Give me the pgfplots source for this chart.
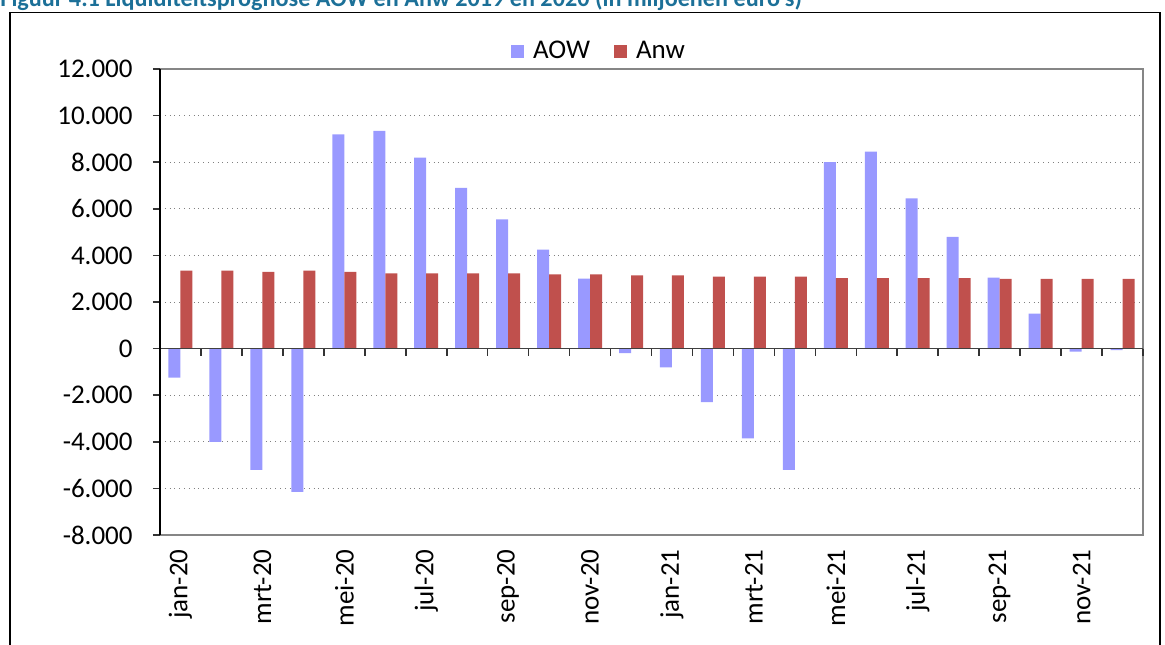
\documentclass[border=0pt]{standalone}
\usepackage{pgfplots}
\pgfplotsset{compat=1.18}
\usepackage{fontspec}
\setmainfont{Carlito}
\definecolor{aow}{RGB}{153,153,255}
\definecolor{anw}{RGB}{192,80,77}
\definecolor{titleblue}{RGB}{28,112,152}
\definecolor{boxgray}{RGB}{134,134,134}
\begin{document}
\begin{tikzpicture}
\useasboundingbox (0pt,0pt) rectangle (582.5pt,-322pt);
\node[anchor=base west, inner sep=0pt, text=titleblue, font=\bfseries\fontsize{12.1pt}{14pt}\selectfont] at (0pt,-3pt) {Figuur 4.1 Liquiditeitsprognose AOW en Anw 2019 en 2020 (in miljoenen euro's)};
\draw[line width=0.6pt] (5pt,-6.25pt) rectangle (580pt,-350pt);

\begin{axis}[at={(80pt,-267.5pt)}, anchor=south west, scale only axis, width=491.5pt, height=233pt,
 xmin=-0.5, xmax=23.5, ymin=-8000, ymax=12000,
 ybar=0pt, bar width=6pt,
 axis line style={boxgray, line width=0.8pt},
 xtick={0,2,...,22},
 xticklabels={jan-20,mrt-20,mei-20,jul-20,sep-20,nov-20,jan-21,mrt-21,mei-21,jul-21,sep-21,nov-21},
 major tick length=0pt,
 xticklabel style={rotate=90, anchor=east, inner sep=0pt, font=\fontsize{13.5pt}{16pt}\selectfont},
 xticklabel shift=7pt,
 ytick={-8000,-6000,...,12000}, yticklabels={}, scaled y ticks=false,
 ymajorgrids, grid style={black!50, dotted, line width=0.5pt},
 legend style={at={(0.4476,1)}, anchor=south, yshift=1.5pt, draw=none, fill=none, inner sep=0pt,
   legend columns=-1, font=\fontsize{13.5pt}{16pt}\selectfont,
   /tikz/every odd column/.append style={column sep=2.5pt},
   /tikz/every even column/.append style={column sep=10pt}},
 legend image code/.code={\fill[#1] (0pt,-3.2pt) rectangle (6.5pt,3.3pt);},
]
\addplot[fill=aow, draw=none] coordinates {
(0,-1250) (1,-4000) (2,-5200) (3,-6150) (4,9200) (5,9350) (6,8200) (7,6900)
(8,5550) (9,4250) (10,3000) (11,-190) (12,-800) (13,-2300) (14,-3850) (15,-5200)
(16,8000) (17,8450) (18,6450) (19,4800) (20,3050) (21,1500) (22,-130) (23,-70)};
\addplot[fill=anw, draw=none] coordinates {
(0,3350) (1,3350) (2,3290) (3,3350) (4,3290) (5,3230) (6,3230) (7,3230)
(8,3230) (9,3190) (10,3190) (11,3140) (12,3140) (13,3090) (14,3090) (15,3090)
(16,3030) (17,3030) (18,3030) (19,3030) (20,2990) (21,2990) (22,2990) (23,2990)};
\legend{AOW,Anw}
\end{axis}

\begin{axis}[at={(80pt,-267.5pt)}, anchor=south west, scale only axis, width=491.5pt, height=233pt,
 xmin=-0.5, xmax=23.5, ymin=-8000, ymax=12000,
 axis x line=middle, axis y line=left,
 axis line style={-, line width=0.8pt},
 x axis line style={black!75},
 y axis line style={black},
 hide obscured x ticks=false, hide obscured y ticks=false,
 xtick={-0.5,0.5,...,23.5}, xticklabels={},
 ytick={-8000,-6000,...,12000},
 scaled y ticks=false,
 tick align=outside, major tick length=3.5pt, tick style={black!80, line width=0.8pt},
 yticklabel style={font=\fontsize{13.5pt}{16pt}\selectfont, inner sep=0pt,
   /pgf/number format/.cd, fixed, precision=0, 1000 sep={.}, assume math mode=true},
 yticklabel shift=10pt,
]
\addplot[draw=none] coordinates {(0,0)};
\end{axis}
\end{tikzpicture}
\end{document}
